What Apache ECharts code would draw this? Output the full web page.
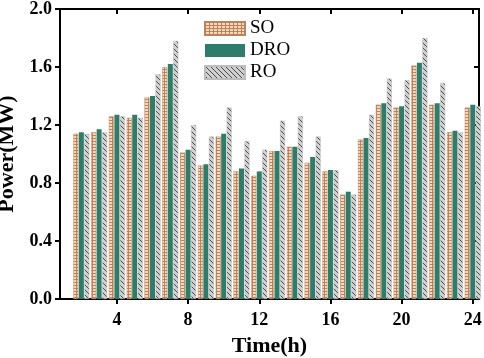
<!DOCTYPE html>
<html>
<head>
<meta charset="utf-8">
<style>
html, body { margin: 0; padding: 0; background: #fff; }
#main { width: 484px; height: 358px; }
</style>
<script src="https://cdn.jsdelivr.net/npm/echarts@6/dist/echarts.min.js"></script>
</head>
<body>
<div id="main"></div>
<script>
// 数据
var hours = [2, 3, 4, 5, 6, 7, 8, 9, 10, 11, 12, 13, 14, 15, 16, 17, 18, 19, 20, 21, 22, 23, 24];
var soData  = [1.14, 1.15, 1.26, 1.25, 1.39, 1.60, 1.01, 0.92, 1.12, 0.88, 0.85, 1.02, 1.05, 0.94, 0.88, 0.72, 1.10, 1.34, 1.32, 1.61, 1.34, 1.15, 1.32];
var droData = [1.15, 1.17, 1.27, 1.27, 1.40, 1.62, 1.03, 0.93, 1.14, 0.90, 0.88, 1.02, 1.05, 0.98, 0.89, 0.74, 1.11, 1.35, 1.33, 1.63, 1.35, 1.16, 1.34];
var roData  = [1.14, 1.15, 1.26, 1.25, 1.55, 1.78, 1.20, 1.12, 1.32, 1.09, 1.03, 1.23, 1.26, 1.12, 0.89, 0.72, 1.27, 1.52, 1.51, 1.80, 1.49, 1.15, 1.33];
var xTicks = [4, 8, 12, 16, 20, 24];

var chartObj = document.getElementById('main');
var chart = echarts.init(chartObj);

// 网格填充
function gridPattern() {
    var c = document.createElement('canvas');
    c.width = 4; c.height = 3;
    var ctx = c.getContext('2d');
    ctx.fillStyle = '#fcd8b6';
    ctx.fillRect(0, 0, 4, 3);
    ctx.fillStyle = '#b98360';
    ctx.fillRect(0, 0, 4, 1);
    ctx.fillRect(0, 0, 1, 3);
    return { image: c, repeat: 'repeat' };
}

// 斜线填充
function hatchPattern() {
    var s = 5;
    var c = document.createElement('canvas');
    c.width = s; c.height = s;
    var ctx = c.getContext('2d');
    ctx.fillStyle = '#d0d0d0';
    ctx.fillRect(0, 0, s, s);
    ctx.strokeStyle = '#4a4a4a';
    ctx.lineWidth = 1;
    ctx.beginPath();
    ctx.moveTo(-1, -1); ctx.lineTo(s + 1, s + 1);
    ctx.moveTo(-1, s - 1); ctx.lineTo(1, s + 1);
    ctx.moveTo(s - 1, -1); ctx.lineTo(s + 1, 1);
    ctx.stroke();
    return { image: c, repeat: 'repeat' };
}

function pairs(vals) {
    return hours.map(function (h, i) { return [h, vals[i]]; });
}

var serifFont = '"Liberation Serif", "DejaVu Serif", serif';

var option = {
    animation: false,
    grid: { left: 60, right: 5, top: 9, bottom: 59, outerBoundsMode: 'none' },
    legend: {
        orient: 'vertical',
        left: 204,
        top: 19,
        padding: 0,
        icon: 'rect',
        itemWidth: 40,
        itemHeight: 13,
        itemGap: 3,
        textStyle: { fontFamily: serifFont, fontSize: 19, color: '#000' },
        data: ['SO', 'DRO', 'RO']
    },
    xAxis: [
        {
            type: 'value',
            min: 0.8,
            max: 24.35,
            name: 'Time(h)',
            nameLocation: 'middle',
            nameGap: 36,
            nameTextStyle: { fontFamily: serifFont, fontSize: 22, fontWeight: 'bold', color: '#000' },
            axisLine: { lineStyle: { color: '#000', width: 2 } },
            axisTick: { show: true, customValues: xTicks, length: 5, lineStyle: { color: '#000', width: 2 } },
            axisLabel: { customValues: xTicks, fontFamily: serifFont, fontSize: 18, fontWeight: 'bold', color: '#000', margin: 12 },
            splitLine: { show: false }
        },
        {
            type: 'value',
            position: 'top',
            min: 0.8,
            max: 24.35,
            axisLine: { onZero: false, lineStyle: { color: '#000', width: 2 } },
            axisTick: { show: true, inside: true, customValues: xTicks, length: 5, lineStyle: { color: '#000', width: 2 } },
            axisLabel: { show: false },
            splitLine: { show: false }
        }
    ],
    yAxis: [
        {
            type: 'value',
            min: 0,
            max: 2,
            interval: 0.4,
            name: 'Power(MW)',
            nameLocation: 'middle',
            nameGap: 40,
            nameTextStyle: { fontFamily: serifFont, fontSize: 22, fontWeight: 'bold', color: '#000' },
            axisLine: { show: true, lineStyle: { color: '#000', width: 2 } },
            axisTick: { show: true, length: 5, lineStyle: { color: '#000', width: 2 } },
            axisLabel: {
                fontFamily: serifFont, fontSize: 18, fontWeight: 'bold', color: '#000', margin: 8,
                formatter: function (v) { return v.toFixed(1); }
            },
            splitLine: { show: false }
        },
        {
            type: 'value',
            position: 'right',
            min: 0,
            max: 2,
            interval: 0.4,
            axisLine: { show: true, onZero: false, lineStyle: { color: '#000', width: 2 } },
            axisTick: { show: true, inside: true, length: 5, lineStyle: { color: '#000', width: 2 } },
            axisLabel: { show: false },
            splitLine: { show: false }
        }
    ],
    series: [
        {
            name: 'SO',
            type: 'bar',
            barWidth: 5,
            barGap: '10%',
            itemStyle: { color: gridPattern(), borderColor: '#b98360', borderWidth: 0.5 },
            data: pairs(soData)
        },
        {
            name: 'DRO',
            type: 'bar',
            barWidth: 5,
            barGap: '10%',
            itemStyle: { color: '#2e7c6a' },
            data: pairs(droData)
        },
        {
            name: 'RO',
            type: 'bar',
            barWidth: 5,
            barGap: '10%',
            itemStyle: { color: hatchPattern(), borderColor: '#bdbdbd', borderWidth: 0.5 },
            data: pairs(roData)
        }
    ]
};
chart.setOption(option);
</script>
</body>
</html>
